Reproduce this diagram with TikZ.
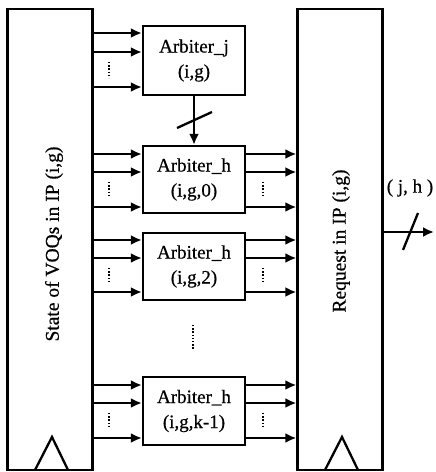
\documentclass[tikz,border=0pt]{standalone}
\usepackage{fontspec}
\setmainfont{Liberation Serif}[FakeBold=0.6]
\usetikzlibrary{arrows.meta}
\begin{document}
\begin{tikzpicture}[x=1pt,y=-1pt,line width=2.3pt,
  arr/.style={-{Latex[length=11pt,width=10pt]}},
  bigbox/.style={draw,minimum width=85pt,minimum height=461pt,inner sep=0pt},
  arbbox/.style={draw,minimum width=102pt,inner sep=0pt,align=center,
    font=\fontsize{19}{25}\selectfont},
  dotcol/.style={line width=1.4pt,dash pattern=on 1.4pt off 1.8pt},
  lbl/.style={font=\fontsize{19.5}{23}\selectfont}]
\useasboundingbox (0,0) rectangle (436,472);
% big boxes
\node[bigbox] (L) at (50,239.5) {};
\node[bigbox] (R) at (340,239.5) {};
\node[lbl,rotate=90] at (54,244) {State of VOQs in IP (i,g)};
\node[lbl,rotate=90] at (341,241) {Request in IP (i,g)};
% triangles
\draw (35,470) -- (52,437) -- (68,470);
\draw (325,470) -- (342,437) -- (358,470);
% arbiters
\node[arbbox,minimum height=69pt] (aj) at (194,60.5) {Arbiter\_j\\(i,g)};
\node[arbbox,minimum height=67pt] (h0) at (194,179.5) {Arbiter\_h\\(i,g,0)};
\node[arbbox,minimum height=67pt] (h2) at (194,266.5) {Arbiter\_h\\(i,g,2)};
\node[arbbox,minimum height=68pt] (hk) at (194,411) {Arbiter\_h\\(i,g,k-1)};
% inputs to arbiter_j
\foreach \y in {33,52,87} {\draw[arr] (L.east |- 0,\y) -- (aj.west |- 0,\y);}
\draw[dotcol] (109,62) -- (109,78);
% arbiter_h groups
\foreach \n/\a/\b/\c in {h0/154/172/207, h2/240/258/292, hk/385/403/438} {
  \foreach \y in {\a,\b,\c} {
    \draw[arr] (L.east |- 0,\y) -- (\n.west |- 0,\y);
    \draw[arr] (\n.east |- 0,\y) -- (R.west |- 0,\y);
  }
  \draw[dotcol] (109,\b+10) -- (109,\b+25);
  \draw[dotcol] (263,\b+10) -- (263,\b+25);
}
% arbiter_j to arbiter_h(0)
\draw[arr] (aj.south) -- (h0.north);
\draw (177,128) -- (212,112);
% middle dots
\draw[dotcol] (193,325) -- (193,350);
% output
\coordinate (out) at (434,232);
\draw[arr] (R.east |- out) -- (out);
\draw (403,250) -- (418,213);
\node[font=\fontsize{19}{22}\selectfont] at (410,188) {( j, h )};
\end{tikzpicture}
\end{document}
